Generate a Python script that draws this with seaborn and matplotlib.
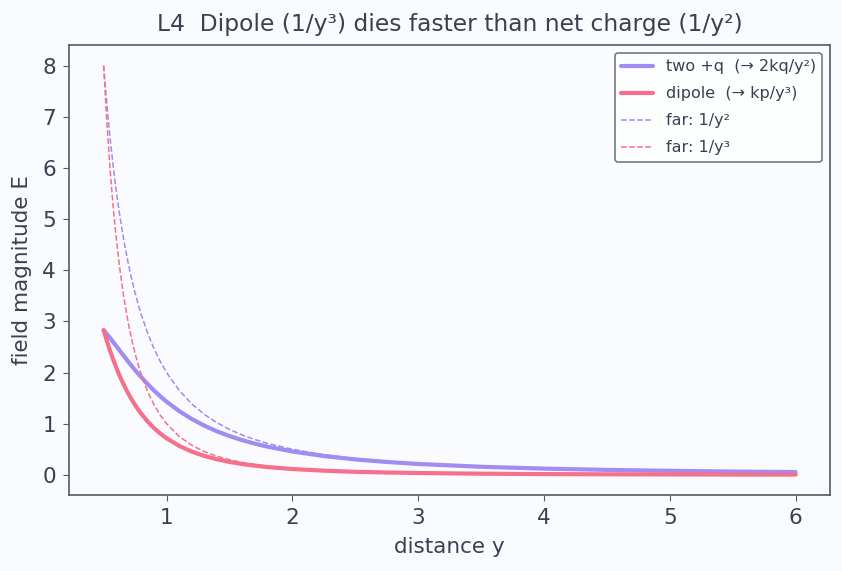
import matplotlib.pyplot as plt
import seaborn as sns
import pandas as pd

# distance along the axis
y_dist = [0.5, 0.525, 0.55, 0.575, 0.6, 0.625, 0.65, 0.675, 0.7, 0.725, 0.75, 0.775, 0.8,
          0.85, 0.9, 0.95, 1.0, 1.1, 1.2, 1.3, 1.4, 1.5, 1.6, 1.7, 1.8, 2.0, 2.25, 2.5,
          2.75, 3.0, 3.5, 4.0, 4.5, 5.0, 5.5, 6.0]
two_q = [2.828, 2.755, 2.679, 2.599, 2.519, 2.438, 2.357, 2.278, 2.199, 2.123, 2.048, 1.976,
         1.906, 1.773, 1.649, 1.536, 1.431, 1.247, 1.092, 0.962, 0.852, 0.759, 0.679, 0.611,
         0.552, 0.457, 0.368, 0.302, 0.252, 0.213, 0.158, 0.122, 0.097, 0.079, 0.065, 0.055]
dipole = [2.828, 2.624, 2.435, 2.260, 2.099, 1.950, 1.813, 1.687, 1.571, 1.464, 1.365, 1.275,
          1.191, 1.043, 0.916, 0.808, 0.716, 0.567, 0.455, 0.370, 0.304, 0.253, 0.212, 0.180,
          0.153, 0.114, 0.082, 0.060, 0.046, 0.036, 0.023, 0.015, 0.011, 0.008, 0.006, 0.005]
far_sq = [8.0, 7.256, 6.612, 6.049, 5.556, 5.12, 4.734, 4.390, 4.082, 3.805, 3.556, 3.330,
          3.125, 2.768, 2.469, 2.216, 2.0, 1.653, 1.389, 1.183, 1.020, 0.889, 0.781, 0.692,
          0.617, 0.5, 0.395, 0.32, 0.264, 0.222, 0.163, 0.125, 0.099, 0.08, 0.066, 0.056]
far_cube = [8.0, 6.911, 6.011, 5.260, 4.630, 4.096, 3.641, 3.252, 2.915, 2.624, 2.370, 2.148,
            1.953, 1.628, 1.372, 1.166, 1.0, 0.751, 0.579, 0.455, 0.364, 0.296, 0.244, 0.204,
            0.172, 0.125, 0.088, 0.064, 0.048, 0.037, 0.023, 0.016, 0.011, 0.008, 0.006, 0.005]

df = pd.DataFrame({"y": y_dist, "two": two_q, "dip": dipole, "f2": far_sq, "f3": far_cube})

PURPLE = "#a08cf2"
RED = "#f5708a"
TEXT = "#3b4050"
EDGE = "#555a66"
BG = "#fafbfe"

sns.set_style("ticks")
plt.rcParams["font.family"] = ["DejaVu Sans"]

fig = plt.figure(figsize=(8.42, 5.71), dpi=100, facecolor=BG)
ax = fig.add_axes([0.082, 0.133, 0.904, 0.788])
ax.set_facecolor(BG)

sns.lineplot(data=df, x="y", y="two", ax=ax, color=PURPLE, lw=3, label="two +q  (→ 2kq/y²)")
sns.lineplot(data=df, x="y", y="dip", ax=ax, color=RED, lw=3, label="dipole  (→ kp/y³)")
sns.lineplot(data=df, x="y", y="f2", ax=ax, color=PURPLE, lw=1.1, ls="--", label="far: 1/y²")
sns.lineplot(data=df, x="y", y="f3", ax=ax, color=RED, lw=1.1, ls="--", label="far: 1/y³")

ax.set_title("L4  Dipole (1/y³) dies faster than net charge (1/y²)", fontsize=16.8, color=TEXT, pad=10)
ax.set_xlabel("distance y", fontsize=15.5, color=TEXT, labelpad=6.5)
ax.set_ylabel("field magnitude E", fontsize=15.5, color=TEXT, labelpad=7.5)
ax.tick_params(labelsize=15.5, colors=EDGE, labelcolor=TEXT, length=4.5, pad=5)
for s in ax.spines.values():
    s.set_color(EDGE)
    s.set_linewidth(1.2)

leg = ax.legend(loc="upper right", fontsize=11.5, frameon=True, facecolor="white",
                edgecolor=EDGE, labelspacing=0.75)
leg.get_frame().set_linewidth(1.2)
for t in leg.get_texts():
    t.set_color(TEXT)

fig.savefig("out.png", dpi=100, facecolor=BG)
